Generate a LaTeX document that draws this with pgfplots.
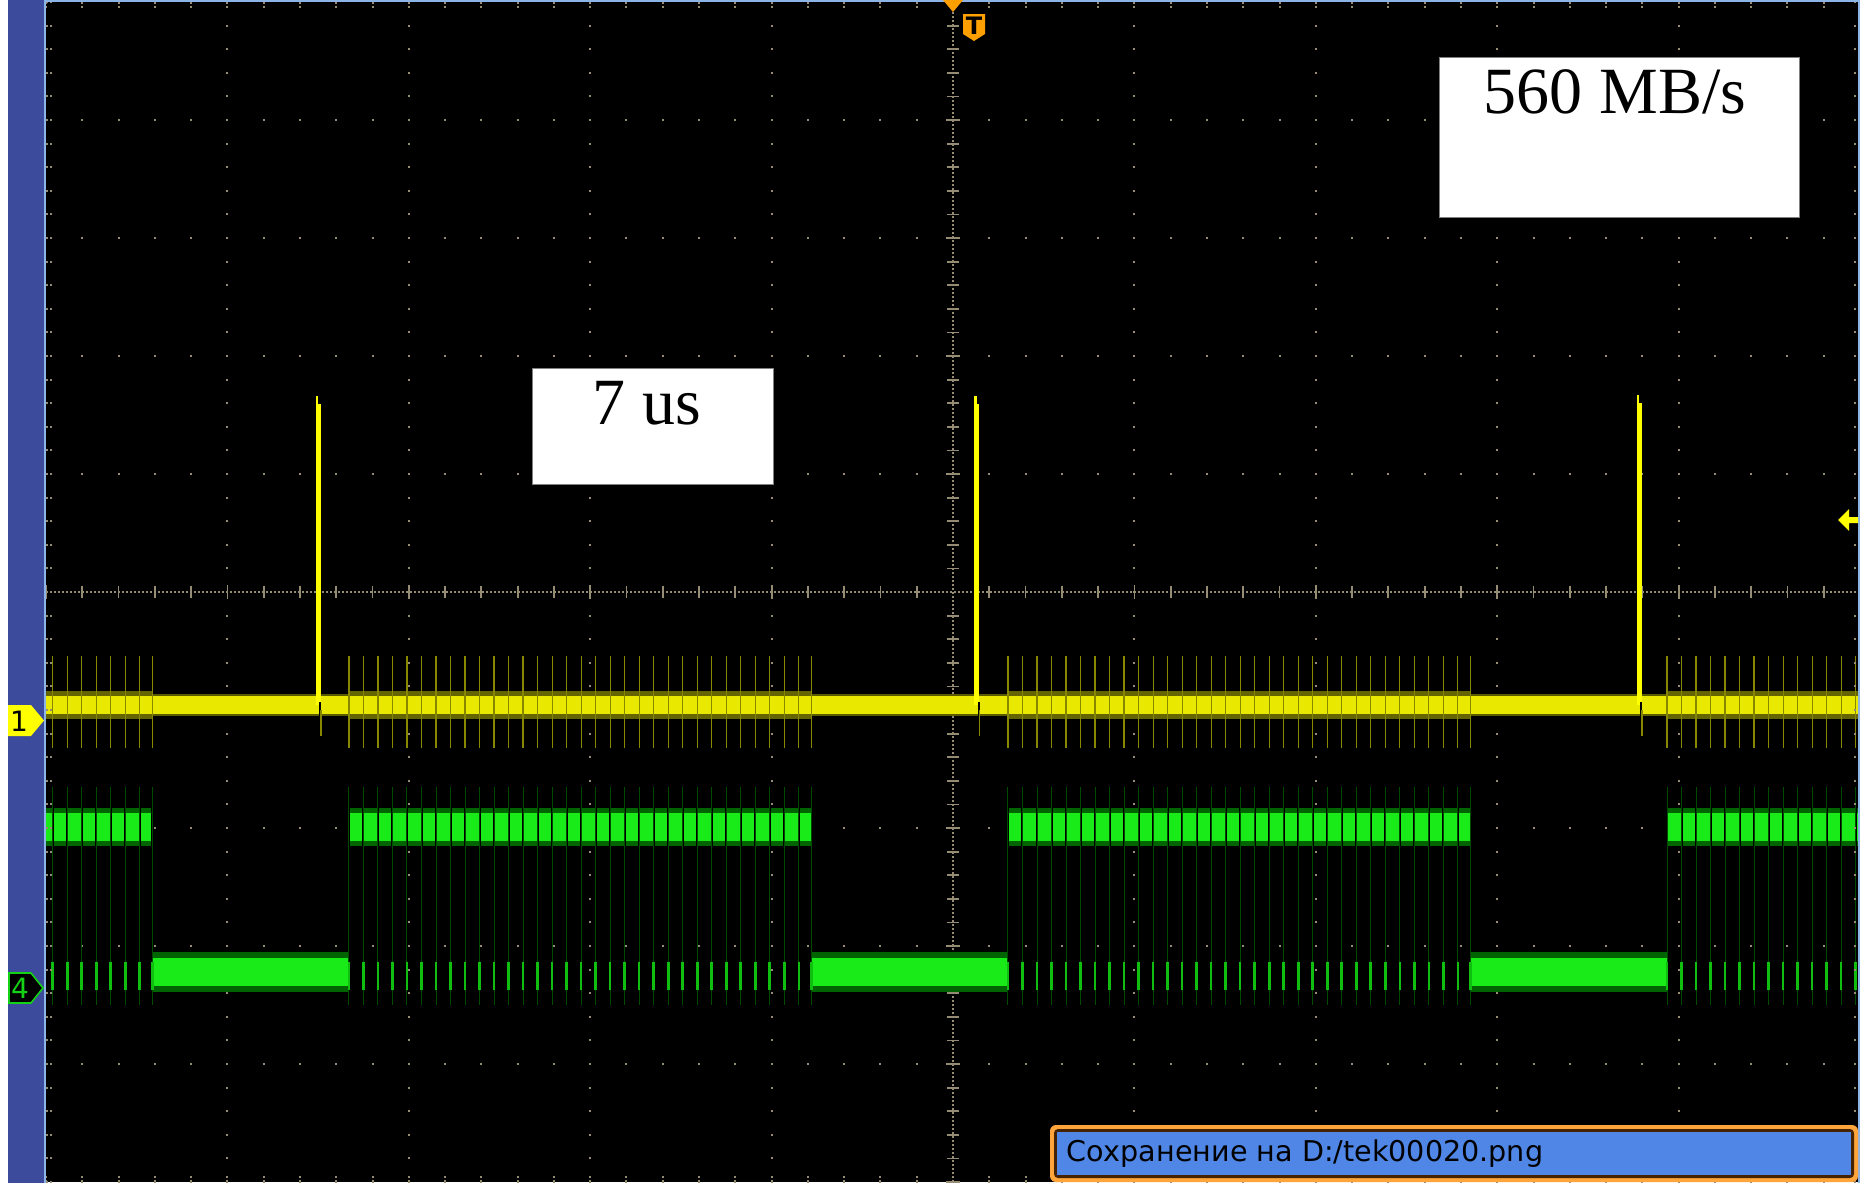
\documentclass[border=0pt]{standalone}
\usepackage{fontspec}
\usepackage{pgfplots}
\usepackage{pgfplotstable}
\pgfplotsset{compat=1.18}
\newfontfamily\tnr{Liberation Serif}
\newfontfamily\dvs{DejaVu Sans}
\definecolor{gridc}{RGB}{150,140,115}
\definecolor{ybright}{RGB}{255,255,0}
\definecolor{ycore}{RGB}{232,232,0}
\definecolor{yfuzz}{RGB}{100,100,0}
\definecolor{yfuzzq}{RGB}{90,90,0}
\definecolor{yspk}{RGB}{135,135,0}
\definecolor{gcore}{RGB}{25,235,25}
\definecolor{gfuzz}{RGB}{0,100,0}
\definecolor{gdim}{RGB}{0,75,0}
\definecolor{gspk}{RGB}{15,190,15}
\definecolor{gmark}{RGB}{20,210,20}
\definecolor{barblue}{RGB}{60,75,155}
\definecolor{edgeblue}{RGB}{140,180,230}
\definecolor{statblue}{RGB}{80,135,230}
\definecolor{tekorange}{RGB}{255,165,60}
\definecolor{trigorange}{RGB}{255,160,0}
\definecolor{darkbrown}{RGB}{70,35,0}

% transition / gap positions of channel 4 (divisions from centre)
\pgfplotstableread{
x yy yhi ymid ylo
-4.963 -0.935 -1.99 -2.575 -3.25
-4.883 -0.935 -1.99 -2.575 -3.25
-4.803 -0.935 -1.99 -2.575 -3.25
-4.723 -0.935 -1.99 -2.575 -3.25
-4.643 -0.935 -1.99 -2.575 -3.25
-4.563 -0.935 -1.99 -2.575 -3.25
-4.483 -0.935 -1.99 -2.575 -3.25
-4.413 -0.935 -1.99 -2.575 -3.25
-3.330 -0.935 -1.99 -2.575 -3.25
-3.250 -0.935 -1.99 -2.575 -3.25
-3.170 -0.935 -1.99 -2.575 -3.25
-3.090 -0.935 -1.99 -2.575 -3.25
-3.010 -0.935 -1.99 -2.575 -3.25
-2.930 -0.935 -1.99 -2.575 -3.25
-2.850 -0.935 -1.99 -2.575 -3.25
-2.770 -0.935 -1.99 -2.575 -3.25
-2.690 -0.935 -1.99 -2.575 -3.25
-2.610 -0.935 -1.99 -2.575 -3.25
-2.530 -0.935 -1.99 -2.575 -3.25
-2.450 -0.935 -1.99 -2.575 -3.25
-2.370 -0.935 -1.99 -2.575 -3.25
-2.290 -0.935 -1.99 -2.575 -3.25
-2.210 -0.935 -1.99 -2.575 -3.25
-2.130 -0.935 -1.99 -2.575 -3.25
-2.050 -0.935 -1.99 -2.575 -3.25
-1.970 -0.935 -1.99 -2.575 -3.25
-1.890 -0.935 -1.99 -2.575 -3.25
-1.810 -0.935 -1.99 -2.575 -3.25
-1.730 -0.935 -1.99 -2.575 -3.25
-1.650 -0.935 -1.99 -2.575 -3.25
-1.570 -0.935 -1.99 -2.575 -3.25
-1.490 -0.935 -1.99 -2.575 -3.25
-1.410 -0.935 -1.99 -2.575 -3.25
-1.330 -0.935 -1.99 -2.575 -3.25
-1.250 -0.935 -1.99 -2.575 -3.25
-1.170 -0.935 -1.99 -2.575 -3.25
-1.090 -0.935 -1.99 -2.575 -3.25
-1.010 -0.935 -1.99 -2.575 -3.25
-0.930 -0.935 -1.99 -2.575 -3.25
-0.850 -0.935 -1.99 -2.575 -3.25
-0.780 -0.935 -1.99 -2.575 -3.25
0.303 -0.935 -1.99 -2.575 -3.25
0.383 -0.935 -1.99 -2.575 -3.25
0.463 -0.935 -1.99 -2.575 -3.25
0.543 -0.935 -1.99 -2.575 -3.25
0.623 -0.935 -1.99 -2.575 -3.25
0.703 -0.935 -1.99 -2.575 -3.25
0.783 -0.935 -1.99 -2.575 -3.25
0.863 -0.935 -1.99 -2.575 -3.25
0.943 -0.935 -1.99 -2.575 -3.25
1.023 -0.935 -1.99 -2.575 -3.25
1.103 -0.935 -1.99 -2.575 -3.25
1.183 -0.935 -1.99 -2.575 -3.25
1.263 -0.935 -1.99 -2.575 -3.25
1.343 -0.935 -1.99 -2.575 -3.25
1.423 -0.935 -1.99 -2.575 -3.25
1.503 -0.935 -1.99 -2.575 -3.25
1.583 -0.935 -1.99 -2.575 -3.25
1.663 -0.935 -1.99 -2.575 -3.25
1.743 -0.935 -1.99 -2.575 -3.25
1.823 -0.935 -1.99 -2.575 -3.25
1.903 -0.935 -1.99 -2.575 -3.25
1.983 -0.935 -1.99 -2.575 -3.25
2.063 -0.935 -1.99 -2.575 -3.25
2.143 -0.935 -1.99 -2.575 -3.25
2.223 -0.935 -1.99 -2.575 -3.25
2.303 -0.935 -1.99 -2.575 -3.25
2.383 -0.935 -1.99 -2.575 -3.25
2.463 -0.935 -1.99 -2.575 -3.25
2.543 -0.935 -1.99 -2.575 -3.25
2.623 -0.935 -1.99 -2.575 -3.25
2.703 -0.935 -1.99 -2.575 -3.25
2.783 -0.935 -1.99 -2.575 -3.25
2.853 -0.935 -1.99 -2.575 -3.25
3.936 -0.935 -1.99 -2.575 -3.25
4.016 -0.935 -1.99 -2.575 -3.25
4.096 -0.935 -1.99 -2.575 -3.25
4.176 -0.935 -1.99 -2.575 -3.25
4.256 -0.935 -1.99 -2.575 -3.25
4.336 -0.935 -1.99 -2.575 -3.25
4.416 -0.935 -1.99 -2.575 -3.25
4.496 -0.935 -1.99 -2.575 -3.25
4.576 -0.935 -1.99 -2.575 -3.25
4.656 -0.935 -1.99 -2.575 -3.25
4.736 -0.935 -1.99 -2.575 -3.25
4.816 -0.935 -1.99 -2.575 -3.25
4.896 -0.935 -1.99 -2.575 -3.25
4.976 -0.935 -1.99 -2.575 -3.25
}\gaps

\begin{document}
\begin{tikzpicture}
\useasboundingbox (0,0) rectangle (935.5pt,-591.5pt);
\fill[white] (0,0) rectangle (935.5pt,-591.5pt);
\begin{scope}[x=0.5pt,y=-0.5pt]
  \fill[barblue] (8,0) rectangle (44,1183);
\end{scope}

\begin{axis}[
  at={(23pt,-591pt)}, anchor=south west,
  width=907pt, height=590pt, scale only axis,
  xmin=-5, xmax=5, ymin=-5, ymax=5,
  axis lines=middle,
  axis line style={-, gridc, line width=1pt, dash pattern=on 1pt off 1pt},
  xtick={-5,...,5}, ytick={-5,...,5},
  minor tick num=4,
  xticklabels={}, yticklabels={},
  tick align=center,
  major tick length=7pt, minor tick length=6pt,
  tick style={gridc, line width=0.9pt},
  grid=major,
  major x grid style={gridc, line width=1pt, dash pattern=on 1pt off 10.8pt, dash phase=0.5pt},
  major y grid style={gridc, line width=1pt, dash pattern=on 1pt off 17.14pt, dash phase=0.5pt},
  axis background/.style={fill=black},
]
% ---------- channel 1 (yellow) ----------
\addplot[yfuzzq, line width=11pt] coordinates {(-4.413,-0.96) (-3.330,-0.96)};
\addplot[yfuzzq, line width=11pt] coordinates {(-0.780,-0.96) (0.303,-0.96)};
\addplot[yfuzzq, line width=11pt] coordinates {(2.853,-0.96) (3.936,-0.96)};
\addplot[yfuzz, line width=14pt] coordinates {(-5,-0.96) (-4.413,-0.96)};
\addplot[yfuzz, line width=14pt] coordinates {(-3.330,-0.96) (-0.780,-0.96)};
\addplot[yfuzz, line width=14pt] coordinates {(0.303,-0.96) (2.853,-0.96)};
\addplot[yfuzz, line width=14pt] coordinates {(3.936,-0.96) (5,-0.96)};
\addplot[only marks, mark=|, mark size=23pt, line width=0.6pt, yspk] table[x=x, y=yy] {\gaps};
\addplot[ycore, line width=9pt] coordinates {(-5,-0.96) (5,-0.96)};
% pulses
\addplot[ybright, line width=2.7pt] coordinates {(-3.499,-0.96) (-3.499,1.59)};
\addplot[ybright, line width=2.7pt] coordinates {(0.131,-0.96) (0.131,1.59)};
\addplot[ybright, line width=2.7pt] coordinates {(3.783,-0.96) (3.783,1.60)};
\addplot[ybright, line width=1.2pt] coordinates {(-3.505,1.57) (-3.505,1.66)};
\addplot[ybright, line width=1.2pt] coordinates {(0.125,1.57) (0.125,1.66)};
\addplot[ybright, line width=1.2pt] coordinates {(3.777,1.58) (3.777,1.67)};
\addplot[black, line width=0.8pt] coordinates {(-3.488,-0.93) (-3.488,-1.06)};
\addplot[black, line width=0.8pt] coordinates {(0.142,-0.93) (0.142,-1.06)};
\addplot[black, line width=0.8pt] coordinates {(3.794,-0.93) (3.794,-1.06)};
\addplot[yspk, line width=0.8pt] coordinates {(-3.484,-1.0) (-3.484,-1.22)};
\addplot[yspk, line width=0.8pt] coordinates {(0.146,-1.0) (0.146,-1.22)};
\addplot[yspk, line width=0.8pt] coordinates {(3.798,-1.0) (3.798,-1.22)};
% ---------- channel 4 (green) ----------
\addplot[only marks, mark=|, mark size=54.6pt, line width=0.5pt, gdim] table[x=x, y=ymid] {\gaps};
% low level, idle
\addplot[gfuzz, line width=20pt] coordinates {(-4.413,-3.22) (-3.330,-3.22)};
\addplot[gfuzz, line width=20pt] coordinates {(-0.780,-3.22) (0.303,-3.22)};
\addplot[gfuzz, line width=20pt] coordinates {(2.853,-3.22) (3.936,-3.22)};
\addplot[gcore, line width=14pt] coordinates {(-4.413,-3.22) (-3.330,-3.22)};
\addplot[gcore, line width=14pt] coordinates {(-0.780,-3.22) (0.303,-3.22)};
\addplot[gcore, line width=14pt] coordinates {(2.853,-3.22) (3.936,-3.22)};
% high level, bursts
\addplot[gfuzz, line width=19pt] coordinates {(-5,-1.99) (-4.413,-1.99)};
\addplot[gfuzz, line width=19pt] coordinates {(-3.330,-1.99) (-0.780,-1.99)};
\addplot[gfuzz, line width=19pt] coordinates {(0.303,-1.99) (2.853,-1.99)};
\addplot[gfuzz, line width=19pt] coordinates {(3.936,-1.99) (5,-1.99)};
\addplot[gcore, line width=14pt] coordinates {(-5,-1.99) (-4.413,-1.99)};
\addplot[gcore, line width=14pt] coordinates {(-3.330,-1.99) (-0.780,-1.99)};
\addplot[gcore, line width=14pt] coordinates {(0.303,-1.99) (2.853,-1.99)};
\addplot[gcore, line width=14pt] coordinates {(3.936,-1.99) (5,-1.99)};
\addplot[only marks, mark=|, mark size=10pt, line width=1pt, black] table[x=x, y=yhi] {\gaps};
\addplot[only marks, mark=|, mark size=10pt, line width=0.5pt, gdim] table[x=x, y=yhi] {\gaps};
\addplot[only marks, mark=|, mark size=7pt, line width=1.3pt, gspk] table[x=x, y=ylo] {\gaps};
\end{axis}

% frame ticks
\begin{axis}[
  at={(23pt,-591pt)}, anchor=south west,
  width=907pt, height=590pt, scale only axis,
  xmin=-5, xmax=5, ymin=-5, ymax=5,
  axis line style={draw=none},
  xtick distance=0.2, ytick distance=0.2,
  xticklabels={}, yticklabels={},
  tick align=inside,
  major tick length=3pt,
  tick style={gridc, line width=1pt, dash pattern=on 1pt off 1pt},
]
\end{axis}

\begin{scope}[x=0.5pt,y=-0.5pt]
  % frame edges
  \fill[edgeblue] (44,0) rectangle (46,1183);
  \fill[edgeblue] (44,0) rectangle (1860,2);
  \fill[edgeblue] (1858,0) rectangle (1860,1183);
  \fill[white] (1860,0) rectangle (1871,1183);
  % channel markers
  \fill[ybright] (8,705) -- (31,705) -- (44,720.5) -- (31,736) -- (8,736) -- cycle;
  \node[font=\dvs\fontsize{14pt}{14pt}\selectfont, text=black, inner sep=0] at (19,721) {1};
  \filldraw[fill=black, draw=gmark, line width=0.8pt] (9,973) -- (31,973) -- (43,988) -- (31,1003) -- (9,1003) -- cycle;
  \node[font=\dvs\fontsize{14pt}{14pt}\selectfont, text=gmark, inner sep=0] at (20,988.5) {4};
  % trigger position and level
  \fill[trigorange] (943,0) -- (963,0) -- (953,12) -- cycle;
  \fill[trigorange] (963,14) -- (985,14) -- (985,34) -- (974,41) -- (963,34) -- cycle;
  \node[font=\dvs\bfseries\fontsize{12pt}{12pt}\selectfont, text=black, inner sep=0] at (974,26) {T};
  \fill[ybright] (1838,520) -- (1849,509) -- (1849,517) -- (1858,517) -- (1858,523) -- (1849,523) -- (1849,531) -- cycle;
  % annotation boxes
  \filldraw[fill=white, draw=gray, line width=0.5pt] (1439,57) rectangle (1799,217);
  \node[font=\tnr\fontsize{33pt}{33pt}\selectfont, anchor=base, inner sep=0] at (1615,113) {560 MB/s};
  \filldraw[fill=white, draw=gray, line width=0.5pt] (532,368) rectangle (773,484);
  \node[font=\tnr\fontsize{33pt}{33pt}\selectfont, anchor=base, inner sep=0] at (647,424) {7 us};
  % status bar
  \fill[tekorange, rounded corners=3pt] (1050,1125) rectangle (1858,1182);
  \fill[darkbrown, rounded corners=2pt] (1054,1129) rectangle (1854,1178);
  \fill[statblue] (1057,1132) rectangle (1851,1175);
  \node[font=\dvs\fontsize{14.3pt}{14.3pt}\selectfont, anchor=base west, inner sep=0, text=black] at (1066,1161) {Сохранение на D:/tek00020.png};
\end{scope}
\end{tikzpicture}
\end{document}
